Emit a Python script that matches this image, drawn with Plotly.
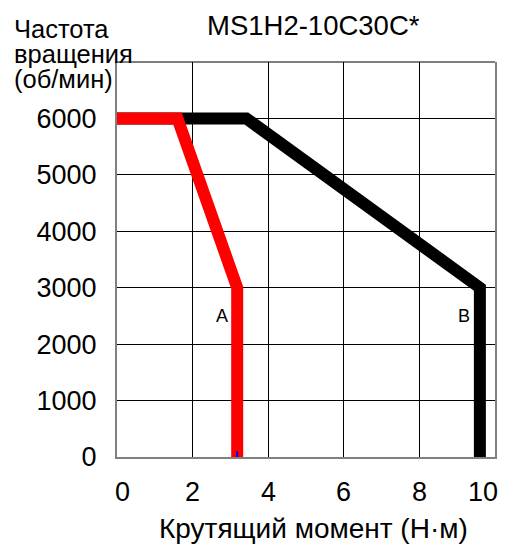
import plotly.graph_objects as go

# Torque-speed characteristic of the MS1H2-10C30C* servo motor
torque_a = [0, 1.6, 3.18, 3.18]
speed_a = [6000, 6000, 3000, 0]

torque_b = [0, 3.42, 9.6, 9.6]
speed_b = [6000, 6000, 3000, 0]

x_ticks = [0, 2, 4, 6, 8, 10]
x_tick_labels = ["0", "2", "4", "6", "8", "10"]
y_ticks = [0, 1000, 2000, 3000, 4000, 5000, 6000]
y_tick_labels = ["0", "1000", "2000", "3000", "4000", "5000", "6000"]

title_text = "MS1H2-10C30C*"
y_title_lines = ["Частота", "вращения", "(об/мин)"]
x_title_text = "Крутящий момент (Н·м)"

FONT = "Liberation Sans, Arial, sans-serif"

fig = go.Figure()

fig.add_trace(go.Scatter(
    x=torque_b, y=speed_b, mode="lines",
    line=dict(color="#000000", width=12), hoverinfo="skip", showlegend=False,
))
fig.add_trace(go.Scatter(
    x=torque_a, y=speed_a, mode="lines",
    line=dict(color="#ff0000", width=12), hoverinfo="skip", showlegend=False,
))
# small blue tick at the foot of curve A
fig.add_trace(go.Scatter(
    x=[torque_a[-1]], y=[speed_a[-1]], mode="markers",
    marker=dict(symbol="line-ns", size=8, line=dict(color="#0000ff", width=2)),
    hoverinfo="skip", showlegend=False,
))

fig.update_xaxes(
    range=[0, 10], tickvals=x_ticks, showticklabels=False,
    showgrid=True, gridcolor="#000000", gridwidth=1,
    showline=True, linecolor="#808080", linewidth=2, mirror=False,
    zeroline=False, ticks="", automargin=False,
)
fig.update_yaxes(
    range=[0, 7000], tickvals=y_ticks, ticktext=y_tick_labels,
    showgrid=True, gridcolor="#000000", gridwidth=1,
    showline=True, linecolor="#808080", linewidth=2, mirror=True,
    zeroline=False, ticks="", tickfont=dict(family=FONT, size=27, color="#000"),
    ticklabelstandoff=13, automargin=False,
)

annotations = [
    dict(text=title_text, x=0.521, y=1.093, xref="paper", yref="paper",
         xanchor="center", yanchor="middle", showarrow=False,
         font=dict(family=FONT, size=27.5, color="#000")),
    dict(text=x_title_text, x=0.521, y=-0.18, xref="paper", yref="paper",
         xanchor="center", yanchor="middle", showarrow=False,
         font=dict(family=FONT, size=28, color="#000")),
    dict(text="A", x=2.78, y=2500, xref="x", yref="y", showarrow=False,
         xanchor="center", yanchor="middle",
         font=dict(family=FONT, size=18, color="#000")),
    dict(text="B", x=9.18, y=2500, xref="x", yref="y", showarrow=False,
         xanchor="center", yanchor="middle",
         font=dict(family=FONT, size=18, color="#000")),
]

# x tick labels: end labels are kept inside the plot width
for i, (val, lab) in enumerate(zip(x_ticks, x_tick_labels)):
    if i == 0:
        anchor, shift = "left", -4
    elif i == len(x_ticks) - 1:
        anchor, shift = "right", 5
    else:
        anchor, shift = "center", 0
    annotations.append(dict(
        text=lab, x=val, y=-0.046, xref="x", yref="paper",
        xanchor=anchor, yanchor="top", xshift=shift, showarrow=False,
        font=dict(family=FONT, size=27, color="#000"),
    ))

for i, line in enumerate(y_title_lines):
    annotations.append(dict(
        text=line, x=-0.278, y=1.083 - i * 0.0625, xref="paper", yref="paper",
        xanchor="left", yanchor="middle", showarrow=False,
        font=dict(family=FONT, size=25.5, color="#000"),
    ))

fig.update_layout(
    width=506, height=549,
    margin=dict(l=117, r=11, t=62, b=92, autoexpand=False),
    paper_bgcolor="#ffffff", plot_bgcolor="#ffffff",
    annotations=annotations,
    shapes=[dict(type="line", xref="paper", yref="paper", x0=0, x1=1, y0=1, y1=1,
                 line=dict(color="#000000", width=1))],
)

fig.write_html("out.html")
